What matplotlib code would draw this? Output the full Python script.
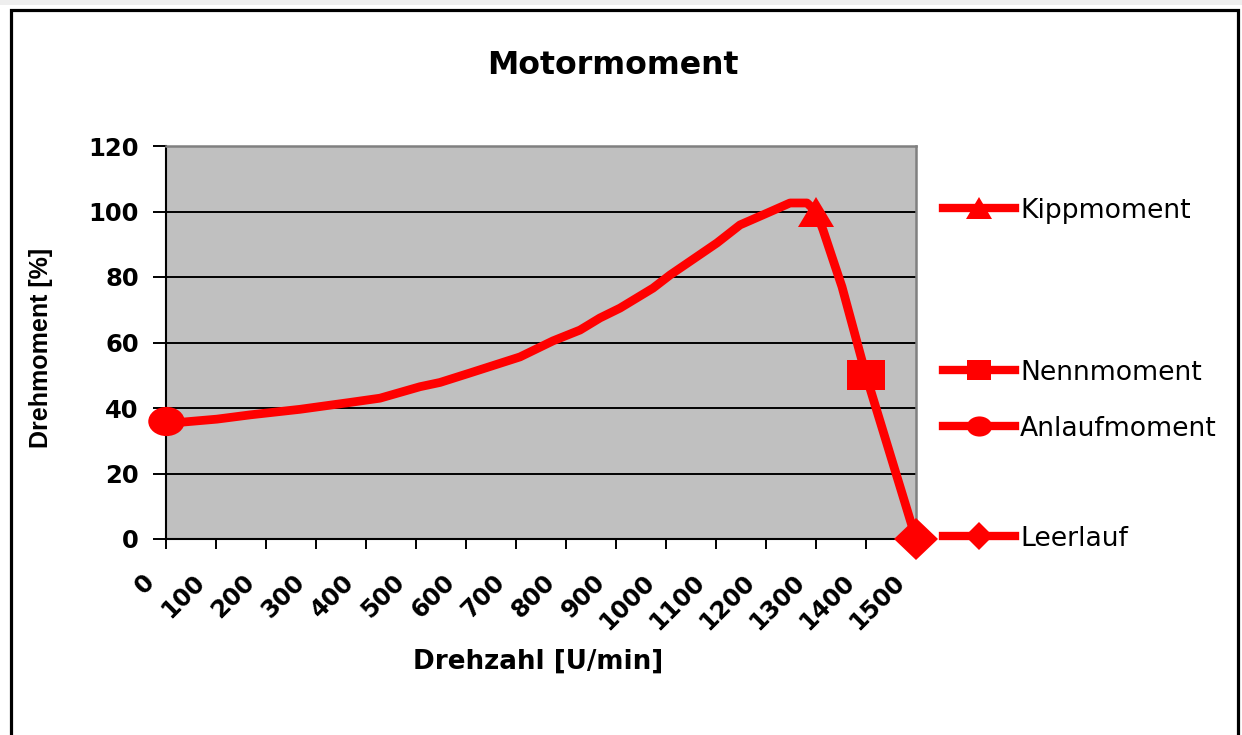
import matplotlib
matplotlib.use("Agg")
import matplotlib.pyplot as plt
from matplotlib.markers import MarkerStyle
from matplotlib.transforms import Affine2D, blended_transform_factory
from matplotlib.lines import Line2D
from matplotlib.patches import Rectangle

plt.rcParams['font.family'] = ['DejaVu Sans']

# ---------------- data ----------------
speed = [0, 34, 102, 168, 268, 368, 428, 508, 548, 608, 708, 774, 828, 868,
         908, 974, 1008, 1102, 1148, 1202, 1248, 1282, 1300, 1314, 1336, 1352,
         1400, 1500]
torque = [36.0, 35.7, 36.6, 37.9, 39.6, 41.7, 43.0, 46.5, 47.8, 50.7, 55.6,
          60.5, 63.8, 67.5, 70.5, 76.6, 80.6, 90.4, 95.9, 99.5, 102.6, 102.6,
          100.0, 94.4, 84.3, 77.0, 50.0, 0.0]

point_names = ['Kippmoment', 'Nennmoment', 'Anlaufmoment', 'Leerlauf']
point_speed = [1300, 1400, 0, 1500]
point_torque = [100, 50, 36, 0]

xtick_values = [0, 100, 200, 300, 400, 500, 600, 700, 800, 900, 1000, 1100,
                1200, 1300, 1400, 1500]
xtick_labels = [str(v) for v in xtick_values]
ytick_values = [0, 20, 40, 60, 80, 100, 120]

# ---------------- style ----------------
RED = '#FF0000'
W, H = 1242, 735


def fx(px):
    return px / W


def fy(py):
    return 1 - py / H


# marker, (x-stretch, y-stretch), plot size, legend size
marker_styles = {
    'Kippmoment': ('^', (1.2, 1.0), 21.5, 15.5),
    'Nennmoment': ('s', (1.24, 1.0), 21.5, 14.5),
    'Anlaufmoment': ('o', (1.25, 1.0), 21.0, 14.5),
    'Leerlauf': ('D', (1.05, 1.0), 21.0, 14.0),
}

fig = plt.figure(figsize=(W / 100, H / 100), dpi=100)
fig.patch.set_facecolor('white')

# outer frame
fig.add_artist(Rectangle((0, fy(5)), 1, 5 / H, transform=fig.transFigure,
                         facecolor='#EEEEEE', edgecolor='none', zorder=0))
fig.add_artist(Rectangle((fx(10.5), -0.05), fx(1238) - fx(10.5), fy(9.5) + 0.05,
                         transform=fig.transFigure, fill=False,
                         edgecolor='black', linewidth=2.3, zorder=1))

ax = fig.add_axes([fx(166), fy(539), fx(916) - fx(166), (539 - 146) / H])
ax.set_facecolor('#C0C0C0')
ax.set_xlim(0, 1500)
ax.set_ylim(0, 120)

ax.set_yticks(ytick_values)
ax.set_yticklabels([str(v) for v in ytick_values])
ax.set_xticks(xtick_values)
ax.set_xticklabels([])
ax.yaxis.grid(True, color='black', linewidth=1.4)
ax.xaxis.grid(False)
ax.set_axisbelow(True)

for s in ['left', 'bottom']:
    ax.spines[s].set_color('black')
    ax.spines[s].set_linewidth(1.5)
for s in ['top', 'right']:
    ax.spines[s].set_color('#808080')
    ax.spines[s].set_linewidth(1.8)
    ax.spines[s].set_zorder(3)

ax.tick_params(axis='y', direction='out', length=9.5, width=1.4, pad=10,
               labelsize=17.5, colors='black')
for lab in ax.get_yticklabels():
    lab.set_fontweight('bold')
ax.tick_params(axis='x', direction='out', length=7, width=1.4)

# rotated category labels
trans = blended_transform_factory(ax.transData, ax.transAxes)
for v, lab in zip(xtick_values, xtick_labels):
    ax.text(v - 50 + 3, -0.079, lab, transform=trans, rotation=45,
            ha='right', va='top', rotation_mode='anchor', fontsize=17.5,
            fontweight='bold', clip_on=False)

# main curve
ax.plot(speed, torque, color=RED, linewidth=6.3, solid_joinstyle='round',
        solid_capstyle='round', zorder=4, clip_on=False)

# key points
for name, xs, ys in zip(point_names, point_speed, point_torque):
    m, sc, ms, _ = marker_styles[name]
    ax.plot([xs], [ys], linestyle='none',
            marker=MarkerStyle(m, transform=Affine2D().scale(*sc)),
            markersize=ms, color=RED, markeredgewidth=0, zorder=5,
            clip_on=False)

# title and axis labels
fig.text(fx(612.5), fy(74), 'Motormoment', ha='center', va='baseline',
         fontsize=22.7, fontweight='bold')
fig.text(fx(538), fy(669), 'Drehzahl [U/min]', ha='center', va='baseline',
         fontsize=18.8, fontweight='bold')
fig.text(fx(41), fy(347.5), 'Drehmoment [%]', ha='center', va='center',
         rotation=90, fontsize=18, fontweight='bold',
         family=['Liberation Sans', 'DejaVu Sans'])

# manual legend (irregularly spaced entries)
legend_y = {'Kippmoment': 208, 'Nennmoment': 370, 'Anlaufmoment': 426,
            'Leerlauf': 536}
for name in point_names:
    m, sc, _, lms = marker_styles[name]
    y = legend_y[name]
    fig.add_artist(Line2D([fx(943), fx(1015)], [fy(y), fy(y)],
                          transform=fig.transFigure, color=RED, linewidth=6))
    fig.add_artist(Line2D([fx(979)], [fy(y)], transform=fig.transFigure,
                          linestyle='none',
                          marker=MarkerStyle(m, transform=Affine2D().scale(*sc)),
                          markersize=lms, color=RED, markeredgewidth=0))
    fig.text(fx(1020), fy(y + 9.5), name, ha='left', va='baseline',
             fontsize=19.2)

fig.savefig('out.png', dpi=100)
